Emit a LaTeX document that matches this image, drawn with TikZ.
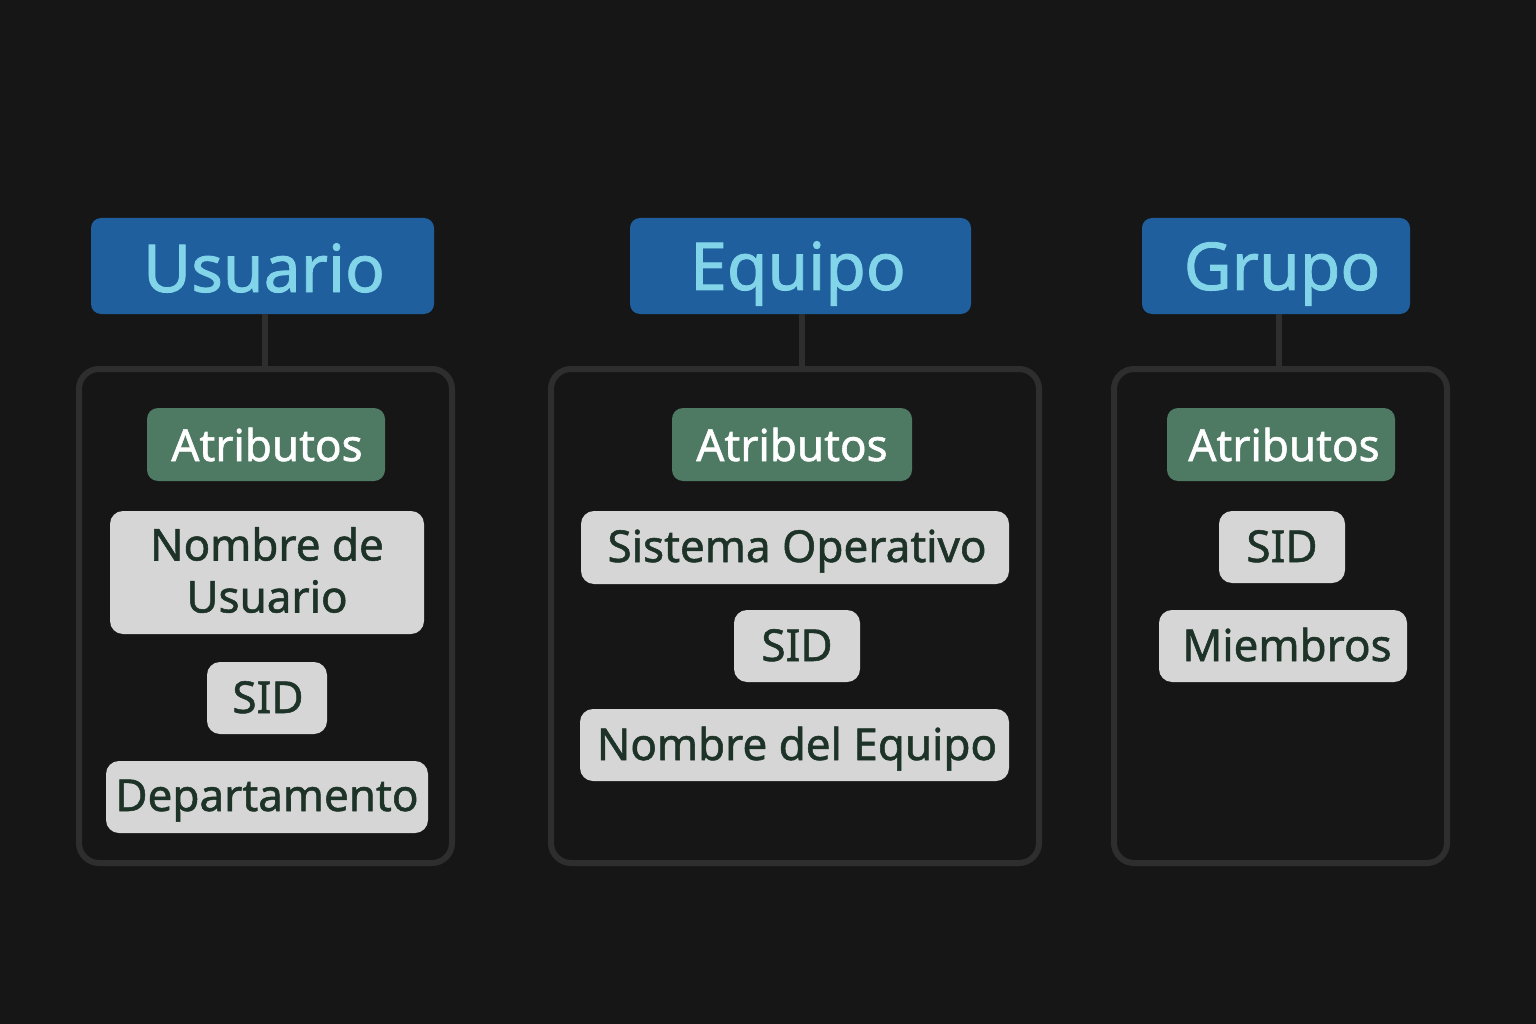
\documentclass[tikz,border=0pt]{standalone}
\usepackage{fontspec}
\setmainfont{Noto Sans}
\newfontfamily\medfont{Noto Sans}[FakeBold=1.2]
\definecolor{bg}{HTML}{161616}
\definecolor{hdr}{HTML}{1F5F9E}
\definecolor{hdrtxt}{HTML}{82D4E8}
\definecolor{grn}{HTML}{4E7A63}
\definecolor{gry}{HTML}{D6D6D6}
\definecolor{grytxt}{HTML}{1E3328}
\definecolor{frame}{HTML}{2E2E2E}
\begin{document}
\begin{tikzpicture}[x=1pt,y=-1pt,
  hdrbox/.style={fill=hdr,rounded corners=10pt,inner sep=0pt},
  grnbox/.style={fill=grn,rounded corners=11pt,inner sep=0pt},
  grybox/.style={fill=gry,rounded corners=13pt,inner sep=0pt},
  cont/.style={draw=frame,line width=6pt,fill=bg,rounded corners=20pt},
  link/.style={draw=frame,line width=6pt},
  htxt/.style={text=hdrtxt,anchor=base,font=\medfont\fontsize{66}{70}\selectfont},
  atxt/.style={text=white,anchor=base,font=\medfont\fontsize{44}{48}\selectfont},
  gtxt/.style={text=grytxt,anchor=base,font=\medfont\fontsize{44}{52}\selectfont,align=center}]
\fill[bg] (0,0) rectangle (1536,1024);
\useasboundingbox (0,0) rectangle (1536,1024);
% headers
\path[hdrbox] (91,218) rectangle (434,314);
\node[htxt] (hu) at (264,292) {Usuario};
\path[hdrbox] (630,218) rectangle (971,314);
\node[htxt] (he) at (798,290) {Equipo};
\path[hdrbox] (1142,218) rectangle (1410,314);
\node[htxt] (hg) at (1282,290) {Grupo};
% connectors
\coordinate (cu1) at (265,314); \coordinate (cu2) at (265,368);
\coordinate (ce1) at (802,314); \coordinate (ce2) at (802,368);
\coordinate (cg1) at (1279,314); \coordinate (cg2) at (1279,368);
\draw[link] (cu1) -- (cu2);
\draw[link] (ce1) -- (ce2);
\draw[link] (cg1) -- (cg2);
% containers
\path[cont] (79,369) rectangle (452,863);
\path[cont] (551,369) rectangle (1039,863);
\path[cont] (1114,369) rectangle (1447,863);
% atributos
\path[grnbox] (147,408) rectangle (385,481);
\node[atxt] (a1) at (267,461) {Atributos};
\path[grnbox] (672,408) rectangle (912,481);
\node[atxt] (a2) at (792,461) {Atributos};
\path[grnbox] (1167,408) rectangle (1395,481);
\node[atxt] (a3) at (1284,461) {Atributos};
% column 1
\path[grybox] (110,511) rectangle (424,634);
\node[gtxt,anchor=center] (u1) at (267,570) {Nombre de\\Usuario};
\path[grybox] (207,662) rectangle (327,734);
\node[gtxt] (u2) at (268,713) {SID};
\path[grybox] (106,761) rectangle (428,833);
\node[gtxt] (u3) at (267,811) {Departamento};
% column 2
\path[grybox] (581,511) rectangle (1009,584);
\node[gtxt] (e1) at (797,562) {Sistema Operativo};
\path[grybox] (734,610) rectangle (860,682);
\node[gtxt] (e2) at (797,661) {SID};
\path[grybox] (580,709) rectangle (1009,781);
\node[gtxt] (e3) at (797,760) {Nombre del Equipo};
% column 3
\path[grybox] (1219,511) rectangle (1345,583);
\node[gtxt] (g1) at (1282,562) {SID};
\path[grybox] (1159,610) rectangle (1407,682);
\node[gtxt] (g2) at (1287,661) {Miembros};
\end{tikzpicture}
\end{document}
